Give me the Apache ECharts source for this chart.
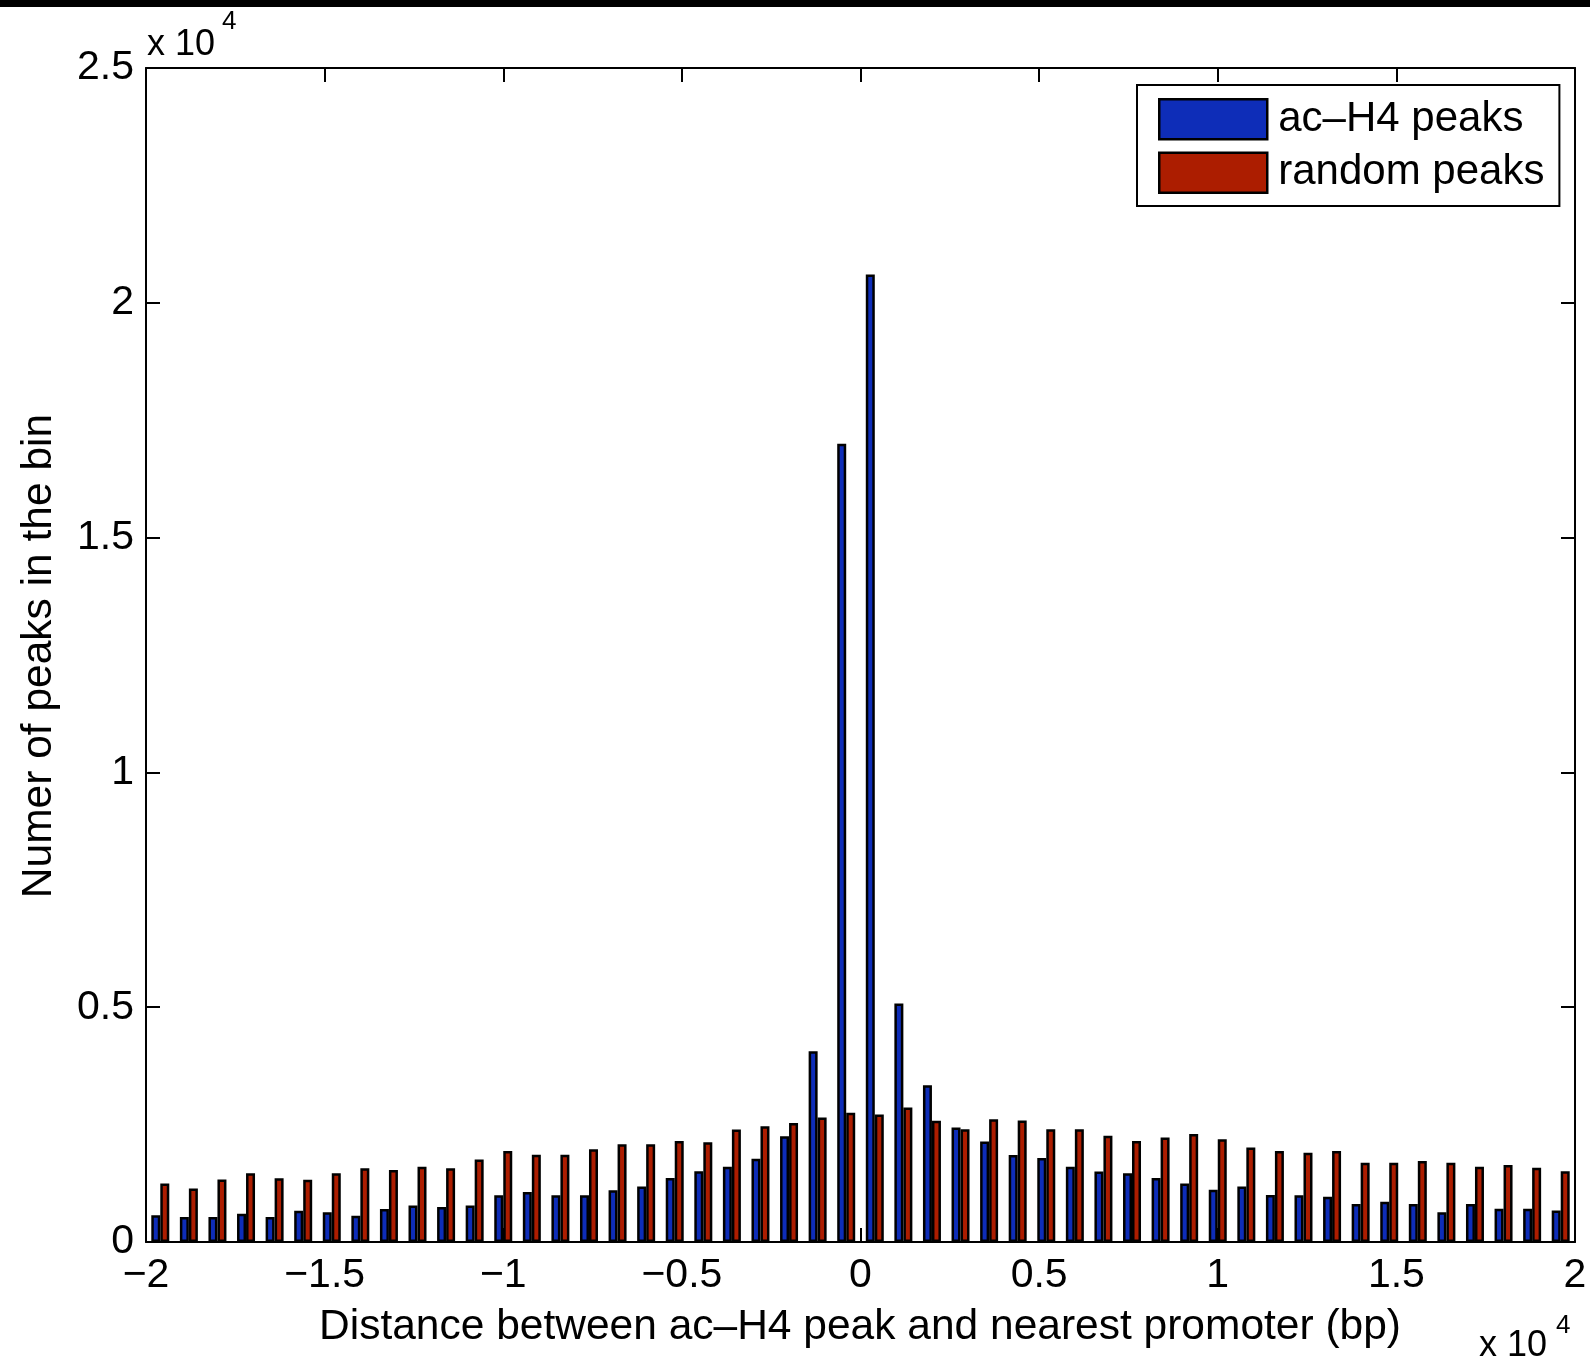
<!DOCTYPE html>
<html>
<head>
<meta charset="utf-8">
<script src="https://cdn.jsdelivr.net/npm/echarts@6/dist/echarts.min.js"></script>
<style>
html,body{margin:0;padding:0;background:#fff;}
#chart{width:1590px;height:1363px;}
</style>
</head>
<body>
<div id="chart"></div>
<script>
// Bin centres (bp)
var binCenters = [-19600,-18800,-18000,-17200,-16400,-15600,-14800,-14000,-13200,-12400,
  -11600,-10800,-10000,-9200,-8400,-7600,-6800,-6000,-5200,-4400,
  -3600,-2800,-2000,-1200,-400,400,1200,2000,2800,3600,
  4400,5200,6000,6800,7600,8400,9200,10000,10800,11600,
  12400,13200,14000,14800,15600,16400,17200,18000,18800,19600];
// ac-H4 peaks counts
var acH4 = [570,530,530,600,530,665,635,560,705,775,
  745,775,995,1065,995,995,1100,1180,1365,1505,
  1600,1775,2250,4060,17000,20600,5080,3340,2440,2140,
  1855,1790,1605,1500,1465,1365,1245,1110,1180,1000,
  995,965,810,855,810,635,810,710,710,670];
// random peaks counts
var randomPk = [1245,1140,1330,1465,1360,1325,1465,1570,1535,1605,
  1570,1755,1940,1860,1860,1975,2080,2080,2150,2125,
  2395,2465,2535,2650,2755,2715,2865,2580,2400,2615,
  2585,2400,2400,2260,2150,2225,2300,2190,2010,1940,
  1900,1940,1685,1685,1725,1685,1605,1640,1580,1505];
var seriesNames = ['ac\u2013H4 peaks', 'random peaks'];
var xTickValues = [-20000,-15000,-10000,-5000,0,5000,10000,15000,20000];
var xTickLabels = ['\u22122','\u22121.5','\u22121','\u22120.5','0','0.5','1','1.5','2'];
var yTickValues = [0,5000,10000,15000,20000,25000];
var yTickLabels = ['0','0.5','1','1.5','2','2.5'];
var xTitle = 'Distance between ac\u2013H4 peak and nearest promoter (bp)';
var yTitle = 'Numer of peaks in the bin';
var multiplier = 'x 10';
var exponent = '4';

var FONT = "'Liberation Sans', Arial, Helvetica, sans-serif";
function lab(vals, labels){ return function(v){ var i = vals.indexOf(v); return i >= 0 ? labels[i] : ''; }; }

var axisLineStyle = {lineStyle:{color:'#000', width:2}};
var tickStyle = {show:true, inside:true, length:14, lineStyle:{color:'#000', width:2}};

function mkX(pos, showLabel){
  return {type:'value', position:pos, min:-20000, max:20000, interval:5000,
    axisLine:Object.assign({show:true,onZero:false}, axisLineStyle), axisTick:tickStyle, splitLine:{show:false},
    axisLabel:{show:showLabel, fontSize:41, fontFamily:FONT, color:'#000', margin:13, formatter:lab(xTickValues,xTickLabels)}};
}
function mkY(pos, showLabel){
  return {type:'value', position:pos, min:0, max:25000, interval:5000,
    axisLine:Object.assign({show:true,onZero:false}, axisLineStyle), axisTick:tickStyle, splitLine:{show:false},
    axisLabel:{show:showLabel, fontSize:41, fontFamily:FONT, color:'#000', margin:12, formatter:lab(yTickValues,yTickLabels)}};
}

var chart = echarts.init(document.getElementById('chart'), null, {renderer:'canvas'});
chart.setOption({
  animation:false,
  backgroundColor:'#fff',
  grid:{left:146, right:15, top:68, bottom:121, containLabel:false},
  xAxis:[mkX('bottom', true), mkX('top', false)],
  yAxis:[mkY('left', true), mkY('right', false)],
  legend:{
    orient:'vertical', left:1137, top:85,
    data:seriesNames, icon:'rect', itemWidth:108, itemHeight:40, itemGap:11,
    padding:[13,15,12,21], borderColor:'#000', borderWidth:2, borderRadius:0, backgroundColor:'#fff',
    textStyle:{fontSize:42, fontFamily:FONT, color:'#000', padding:[0,0,0,6]},
    itemStyle:{borderColor:'#000', borderWidth:2.5}
  },
  series:[
    {name:seriesNames[0], type:'bar', xAxisIndex:0, yAxisIndex:0, barWidth:9, barGap:'0%',
     itemStyle:{color:'#0e2db8', borderColor:'#000', borderWidth:2.5},
     data:binCenters.map(function(c,i){return [c, acH4[i]];})},
    {name:seriesNames[1], type:'bar', xAxisIndex:0, yAxisIndex:0, barWidth:9, barGap:'0%',
     itemStyle:{color:'#ac1d00', borderColor:'#000', borderWidth:2.5},
     data:binCenters.map(function(c,i){return [c, randomPk[i]];})}
  ],
  graphic:[
    {type:'rect', left:0, top:0, shape:{width:1590, height:7}, style:{fill:'#000'}},
    {type:'text', x:147, y:27, style:{text:multiplier, font:'36px '+FONT, fill:'#000'}},
    {type:'text', x:222, y:9, style:{text:exponent, font:'26px '+FONT, fill:'#000'}},
    {type:'text', x:1479, y:1328, style:{text:multiplier, font:'36px '+FONT, fill:'#000'}},
    {type:'text', x:1556, y:1313, style:{text:exponent, font:'26px '+FONT, fill:'#000'}},
    {type:'text', x:860, y:1327, style:{text:xTitle, font:'42.5px '+FONT, fill:'#000', align:'center', verticalAlign:'middle'}},
    {type:'text', x:39, y:656, rotation:Math.PI/2, style:{text:yTitle, font:'42.5px '+FONT, fill:'#000', align:'center', verticalAlign:'middle'}}
  ]
});
</script>
</body>
</html>
